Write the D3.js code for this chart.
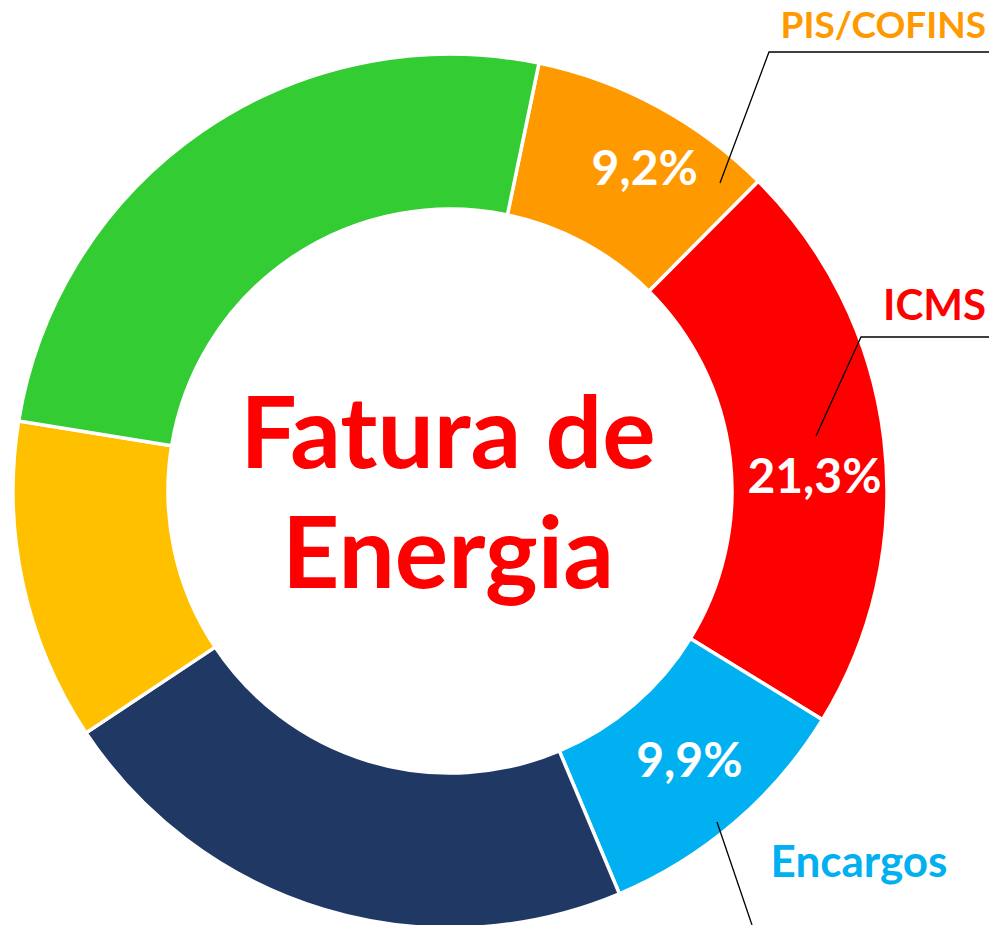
<!DOCTYPE html>
<html>
<head>
<meta charset="utf-8">
<script src="https://cdn.jsdelivr.net/npm/d3@7"></script>
<style>
  html, body { margin: 0; padding: 0; background: #fff; }
  svg { display: block; }
  text { font-family: Lato, "Open Sans", sans-serif; font-weight: 700; }
</style>
</head>
<body>
<svg id="chart" width="989" height="925"></svg>
<script>
// ---- data ----
const categories = ["PIS/COFINS", "ICMS", "Encargos", "Geração", "Transmissão", "Distribuição"];
const values = [9.2, 21.3, 9.9, 22.0, 11.9, 25.7];
const colors = ["#FF9900", "#FF0000", "#00B0F0", "#203864", "#FFC000", "#33CC33"];
const showValue = [true, true, true, false, false, false];
const valueLabels = ["9,2%", "21,3%", "9,9%"];
const titleLines = ["Fatura de", "Energia"];

// ---- layout ----
const W = 989, H = 925;
const cx = 450, cy = 491, outerR = 437, innerR = 282;
const startDeg = 11.75;

const svg = d3.select("#chart");
const g = svg.append("g").attr("transform", `translate(${cx},${cy})`);

const pie = d3.pie().sort(null).value(d => d)
  .startAngle(startDeg * Math.PI / 180)
  .endAngle(startDeg * Math.PI / 180 + 2 * Math.PI);
const arcs = pie(values);
const arc = d3.arc().innerRadius(innerR).outerRadius(outerR);

g.selectAll("path.slice").data(arcs).join("path")
  .attr("class", "slice")
  .attr("d", arc)
  .attr("fill", (d, i) => colors[i])
  .attr("stroke", "#fff")
  .attr("stroke-width", 3.5)
  .attr("stroke-linejoin", "miter");

// value labels (white, inside ring)
const labelOffsets = [[24, -8], [7, 26], [5, -6]];
const labelArc = d3.arc().innerRadius(360).outerRadius(360);
arcs.forEach((d, i) => {
  if (!showValue[i]) return;
  const c = labelArc.centroid(d);
  const [ox, oy] = labelOffsets[i];
  g.append("text")
    .attr("x", c[0] + ox).attr("y", c[1] + oy)
    .attr("text-anchor", "middle")
    .attr("dominant-baseline", "central")
    .attr("fill", "#fff")
    .attr("font-size", 48)
    .text(valueLabels[i]);
});

// leader lines (absolute coordinates)
const leaders = [
  [[720, 183], [769, 52], [989, 52]],
  [[816, 436], [861, 337], [989, 337]],
  [[717, 822], [752, 925]]
];
leaders.forEach(pts => {
  svg.append("polyline")
    .attr("points", pts.map(p => p.join(",")).join(" "))
    .attr("fill", "none")
    .attr("stroke", "#000")
    .attr("stroke-width", 1.3);
});

// category labels
const catLabels = [
  { i: 0, x: 986, y: 38, anchor: "end", size: 37 },
  { i: 1, x: 986, y: 320, anchor: "end", size: 42 },
  { i: 2, x: 859, y: 877, anchor: "middle", size: 44 }
];
catLabels.forEach(l => {
  svg.append("text")
    .attr("x", l.x).attr("y", l.y)
    .attr("text-anchor", l.anchor)
    .attr("fill", colors[l.i])
    .attr("font-size", l.size)
    .text(categories[l.i]);
});

// center title
svg.append("text")
  .attr("x", 448).attr("y", 468)
  .attr("text-anchor", "middle")
  .attr("fill", "#FF0000")
  .attr("font-size", 100)
  .text(titleLines[0]);
svg.append("text")
  .attr("x", 448).attr("y", 588)
  .attr("text-anchor", "middle")
  .attr("fill", "#FF0000")
  .attr("font-size", 100)
  .text(titleLines[1]);
</script>
</body>
</html>
